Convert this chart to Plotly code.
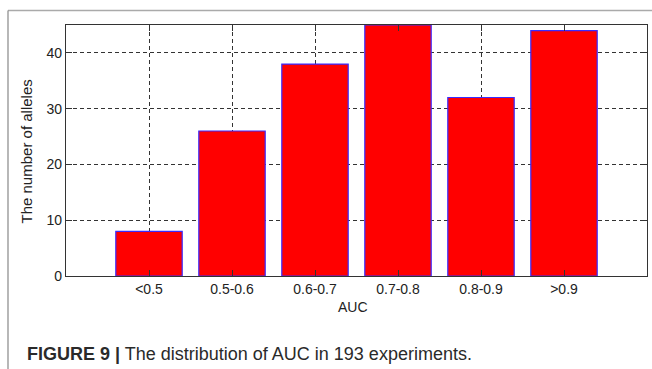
import plotly.graph_objects as go

categories = ["<0.5", "0.5-0.6", "0.6-0.7", "0.7-0.8", "0.8-0.9", ">0.9"]
counts = [8, 26, 38, 45, 32, 44]
positions = [1, 2, 3, 4, 5, 6]
y_ticks = [0, 10, 20, 30, 40]

W, H = 652, 369
L, R, T, B = 66, 5, 25, 93
pw = W - L - R
ph = H - T - B

def px2paper_x(px):
    return (px - L) / pw

def px2paper_y(py):
    return (H - B - py) / ph

font = "Liberation Sans, Arial, sans-serif"

fig = go.Figure()
fig.add_trace(go.Bar(
    x=positions, y=counts, width=0.8,
    marker=dict(color="#ff0000", line=dict(color="#3a2bff", width=1.2)),
))

axis_common = dict(
    showgrid=True, gridcolor="#333", griddash="4px,3px", gridwidth=1,
    showline=True, linecolor="#333", linewidth=1.3, mirror="ticks",
    ticks="inside", ticklen=6, tickcolor="#333", tickwidth=1.2,
    zeroline=False, tickfont=dict(family=font, size=14, color="#222"),
)

fig.update_layout(
    width=W, height=H,
    margin=dict(l=L, r=R, t=T, b=B),
    paper_bgcolor="white", plot_bgcolor="white",
    showlegend=False,
    font=dict(family=font, size=14, color="#222"),
    xaxis=dict(range=[0, 7], tickvals=positions, ticktext=categories, **axis_common),
    yaxis=dict(range=[0, 45], tickvals=y_ticks, **axis_common),
)

# Outer figure frame (top and left gray lines)
fig.add_shape(type="line", xref="paper", yref="paper",
              x0=px2paper_x(8), x1=px2paper_x(653), y0=px2paper_y(10.5), y1=px2paper_y(10.5),
              line=dict(color="#aaaaaa", width=1.5))
fig.add_shape(type="line", xref="paper", yref="paper",
              x0=px2paper_x(8), x1=px2paper_x(8), y0=px2paper_y(10.5), y1=px2paper_y(370),
              line=dict(color="#888888", width=1.2))

# Axis titles
fig.add_annotation(text="AUC", xref="paper", yref="paper",
                   x=px2paper_x(353), y=px2paper_y(307), showarrow=False,
                   xanchor="center", yanchor="middle",
                   font=dict(family=font, size=14, color="#222"))
fig.add_annotation(text="The number of alleles", xref="paper", yref="paper",
                   x=px2paper_x(26), y=px2paper_y(151.5), showarrow=False,
                   textangle=-90, xanchor="center", yanchor="middle",
                   font=dict(family=font, size=15, color="#222"))

# Caption
fig.add_annotation(text="<b>FIGURE 9 |</b> The distribution of AUC in 193 experiments.",
                   xref="paper", yref="paper",
                   x=px2paper_x(25), y=px2paper_y(354), showarrow=False,
                   xanchor="left", yanchor="middle",
                   font=dict(family=font, size=18, color="#2a2a2a"))

fig.write_html("out.html")
